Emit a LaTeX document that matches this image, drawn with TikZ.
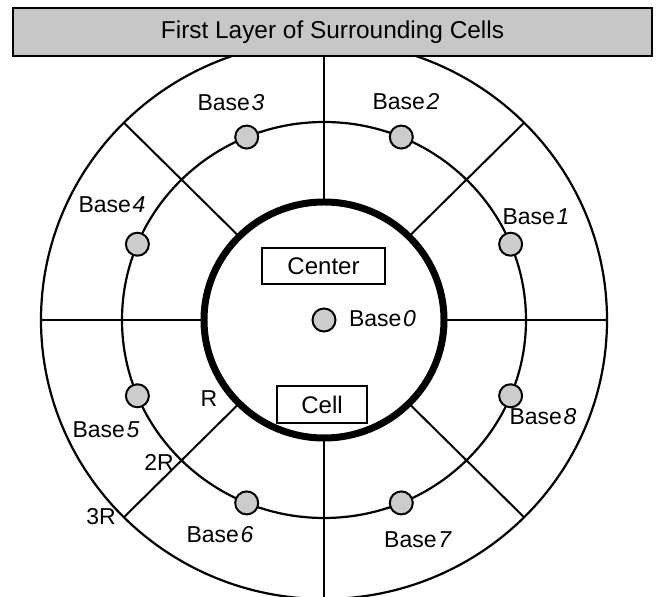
\documentclass[tikz,border=0pt]{standalone}
\usepackage{fontspec}
\setmainfont{Liberation Sans}
\begin{document}
\begin{tikzpicture}[x=0.5pt,y=0.5pt,
  ring/.style={line width=1.1pt},
  innerring/.style={line width=3.5pt},
  spoke/.style={line width=1pt},
  basedot/.style={circle, draw, line width=1pt, fill=black!20, minimum size=11.5pt, inner sep=0pt},
  lbl/.style={font=\fontsize{11.5}{13}\selectfont, inner sep=0pt},
  tag/.style={draw, fill=white, line width=0.8pt, inner sep=0pt, font=\fontsize{12}{14}\selectfont},
  banner/.style={draw, fill=black!22, line width=1.2pt, inner sep=0pt, font=\fontsize{12.2}{14}\selectfont}]
\useasboundingbox (-324,-277) rectangle (338,320);
\clip (-324,-277) rectangle (338,320);
\coordinate (c) at (0,0);

% spokes between the inner cell and the outer ring
\foreach \a in {0,45,...,315}
  \draw[spoke] (\a:120 and 118) -- (\a:283 and 279);

% rings: outer limit, base ring, center cell
\draw[ring] (c) ellipse [x radius=283, y radius=279];
\draw[ring] (c) ellipse [x radius=202, y radius=198];
\draw[innerring, fill=white] (c) ellipse [x radius=120, y radius=118];

% base stations
\node[basedot] (b0) at (c) {};
\foreach \k in {1,...,8}
  \node[basedot] (b\k) at ({22.5+45*(\k-1)}:202 and 198) {};

% title banner
\node[banner, minimum width=319.5pt, minimum height=24pt] (title) at (8.5,288)
  {First Layer of Surrounding Cells};

% boxes in the center cell
\node[tag, minimum width=61.5pt, minimum height=18pt] (center) at (-0.5,54) {Center};
\node[tag, minimum width=45pt, minimum height=18.5pt] (cell) at (-2,-84.5) {Cell};

% base labels
\node[lbl] (l0) at (58.5,1) {Base\kern0.8pt\textit{0}};
\node[lbl] (l1) at (212,103) {Base\kern0.8pt\textit{1}};
\node[lbl] (l2) at (82,218) {Base\kern0.8pt\textit{2}};
\node[lbl] (l3) at (-93,217) {Base\kern0.8pt\textit{3}};
\node[lbl] (l4) at (-212,115) {Base\kern0.8pt\textit{4}};
\node[lbl] (l5) at (-218,-110) {Base\kern0.8pt\textit{5}};
\node[lbl] (l6) at (-104,-215) {Base\kern0.8pt\textit{6}};
\node[lbl] (l7) at (94,-220) {Base\kern0.8pt\textit{7}};
\node[lbl] (l8) at (219,-97) {Base\kern0.8pt\textit{8}};

% radius marks
\node[lbl] (r1) at (-115,-79) {R};
\node[lbl] (r2) at (-165,-142) {2R};
\node[lbl] (r3) at (-223,-197) {3R};
\end{tikzpicture}
\end{document}
